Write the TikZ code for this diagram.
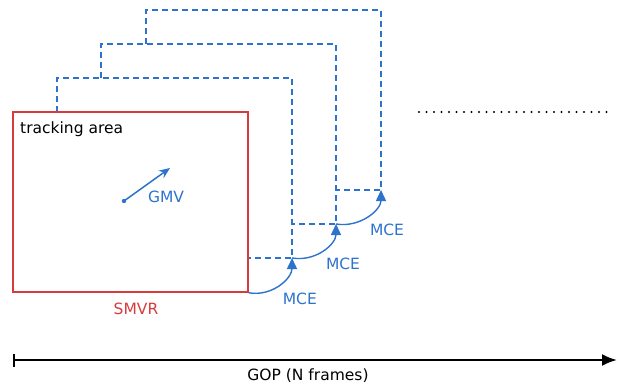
\documentclass[tikz,border=0pt]{standalone}
\usepackage{fontspec}
\setmainfont{DejaVu Sans}
\usetikzlibrary{arrows.meta,positioning,calc}
\definecolor{frameblue}{RGB}{45,115,205}
\definecolor{smvrred}{RGB}{215,60,60}
\tikzset{
    smvr-box/.style = {draw=smvrred, line width=1.8pt, rectangle, inner sep=0pt, minimum width=235pt, minimum height=180pt, anchor=north west},
    frame-line/.style = {draw=frameblue, line width=1.9pt, dash pattern=on 6pt off 4pt},
    mce-arrow/.style = {draw=frameblue, line width=1.4pt, -{Triangle[length=11pt,width=10pt]}},
    gmv-arrow/.style = {draw=frameblue, line width=1.5pt, -{Stealth[length=11pt,width=9pt]}},
    blue-label/.style = {text=frameblue, inner sep=0pt, font=\fontsize{15.5}{18}\selectfont},
    plain-label/.style = {inner sep=0pt, font=\fontsize{15.5}{18}\selectfont},
}

\begin{document}
\begin{tikzpicture}[x=1pt, y=-1pt]
\useasboundingbox (0,0) rectangle (618,385);

% frames of the GOP, back to front
\foreach \dx/\dy [count=\k] in {45/33,89/67,134/101} {
    \begin{scope}[shift={(\dx,-\dy)}]
        \draw[frame-line] (12,145) -- (12,111) -- (247,111) -- (247,291) -- (202,291);
        \coordinate (c\k) at (247,291);
    \end{scope}
}

% first frame with its tracking area
\node[smvr-box, fill=white] (smvr) at (12,111) {};
\coordinate (c0) at (smvr.south east);
\node[plain-label, anchor=west] (tracking) at (20,129) {tracking area};
\node[plain-label, text=smvrred] (smvr-label) at (136,309) {SMVR};

% global motion vector
\fill[frameblue] (124,201) circle (2.2pt);
\coordinate (gmv-start) at (124,201);
\coordinate (gmv-end) at (170,168);
\draw[gmv-arrow] (gmv-start) -- (gmv-end);
\node[blue-label] (gmv) at (166,197) {GMV};

% motion compensated estimation between frames
\foreach \a/\b in {c0/c1,c1/c2,c2/c3} {
    \draw[mce-arrow] (\a) .. controls +(24,4) and +(0,20) .. (\b);
    \node[blue-label] (mce-\b) at ([shift={(51,6)}]\a) {MCE};
}

% remaining frames
\coordinate (dots-start) at (419,112);
\coordinate (dots-end) at (614,112);
\draw[line width=2.2pt, line cap=round, dash pattern=on 0pt off 7.5pt] (dots-start) -- (dots-end);

% group of pictures
\coordinate (gop-start) at (13,360);
\coordinate (gop-end) at (617,360);
\draw[line width=2.3pt, {Bar[width=13pt]}-{Latex[length=15pt,width=12pt]}] (gop-start) -- (gop-end);
\node[plain-label] (gop) at (308,376) {GOP (N frames)};
\end{tikzpicture}
\end{document}
